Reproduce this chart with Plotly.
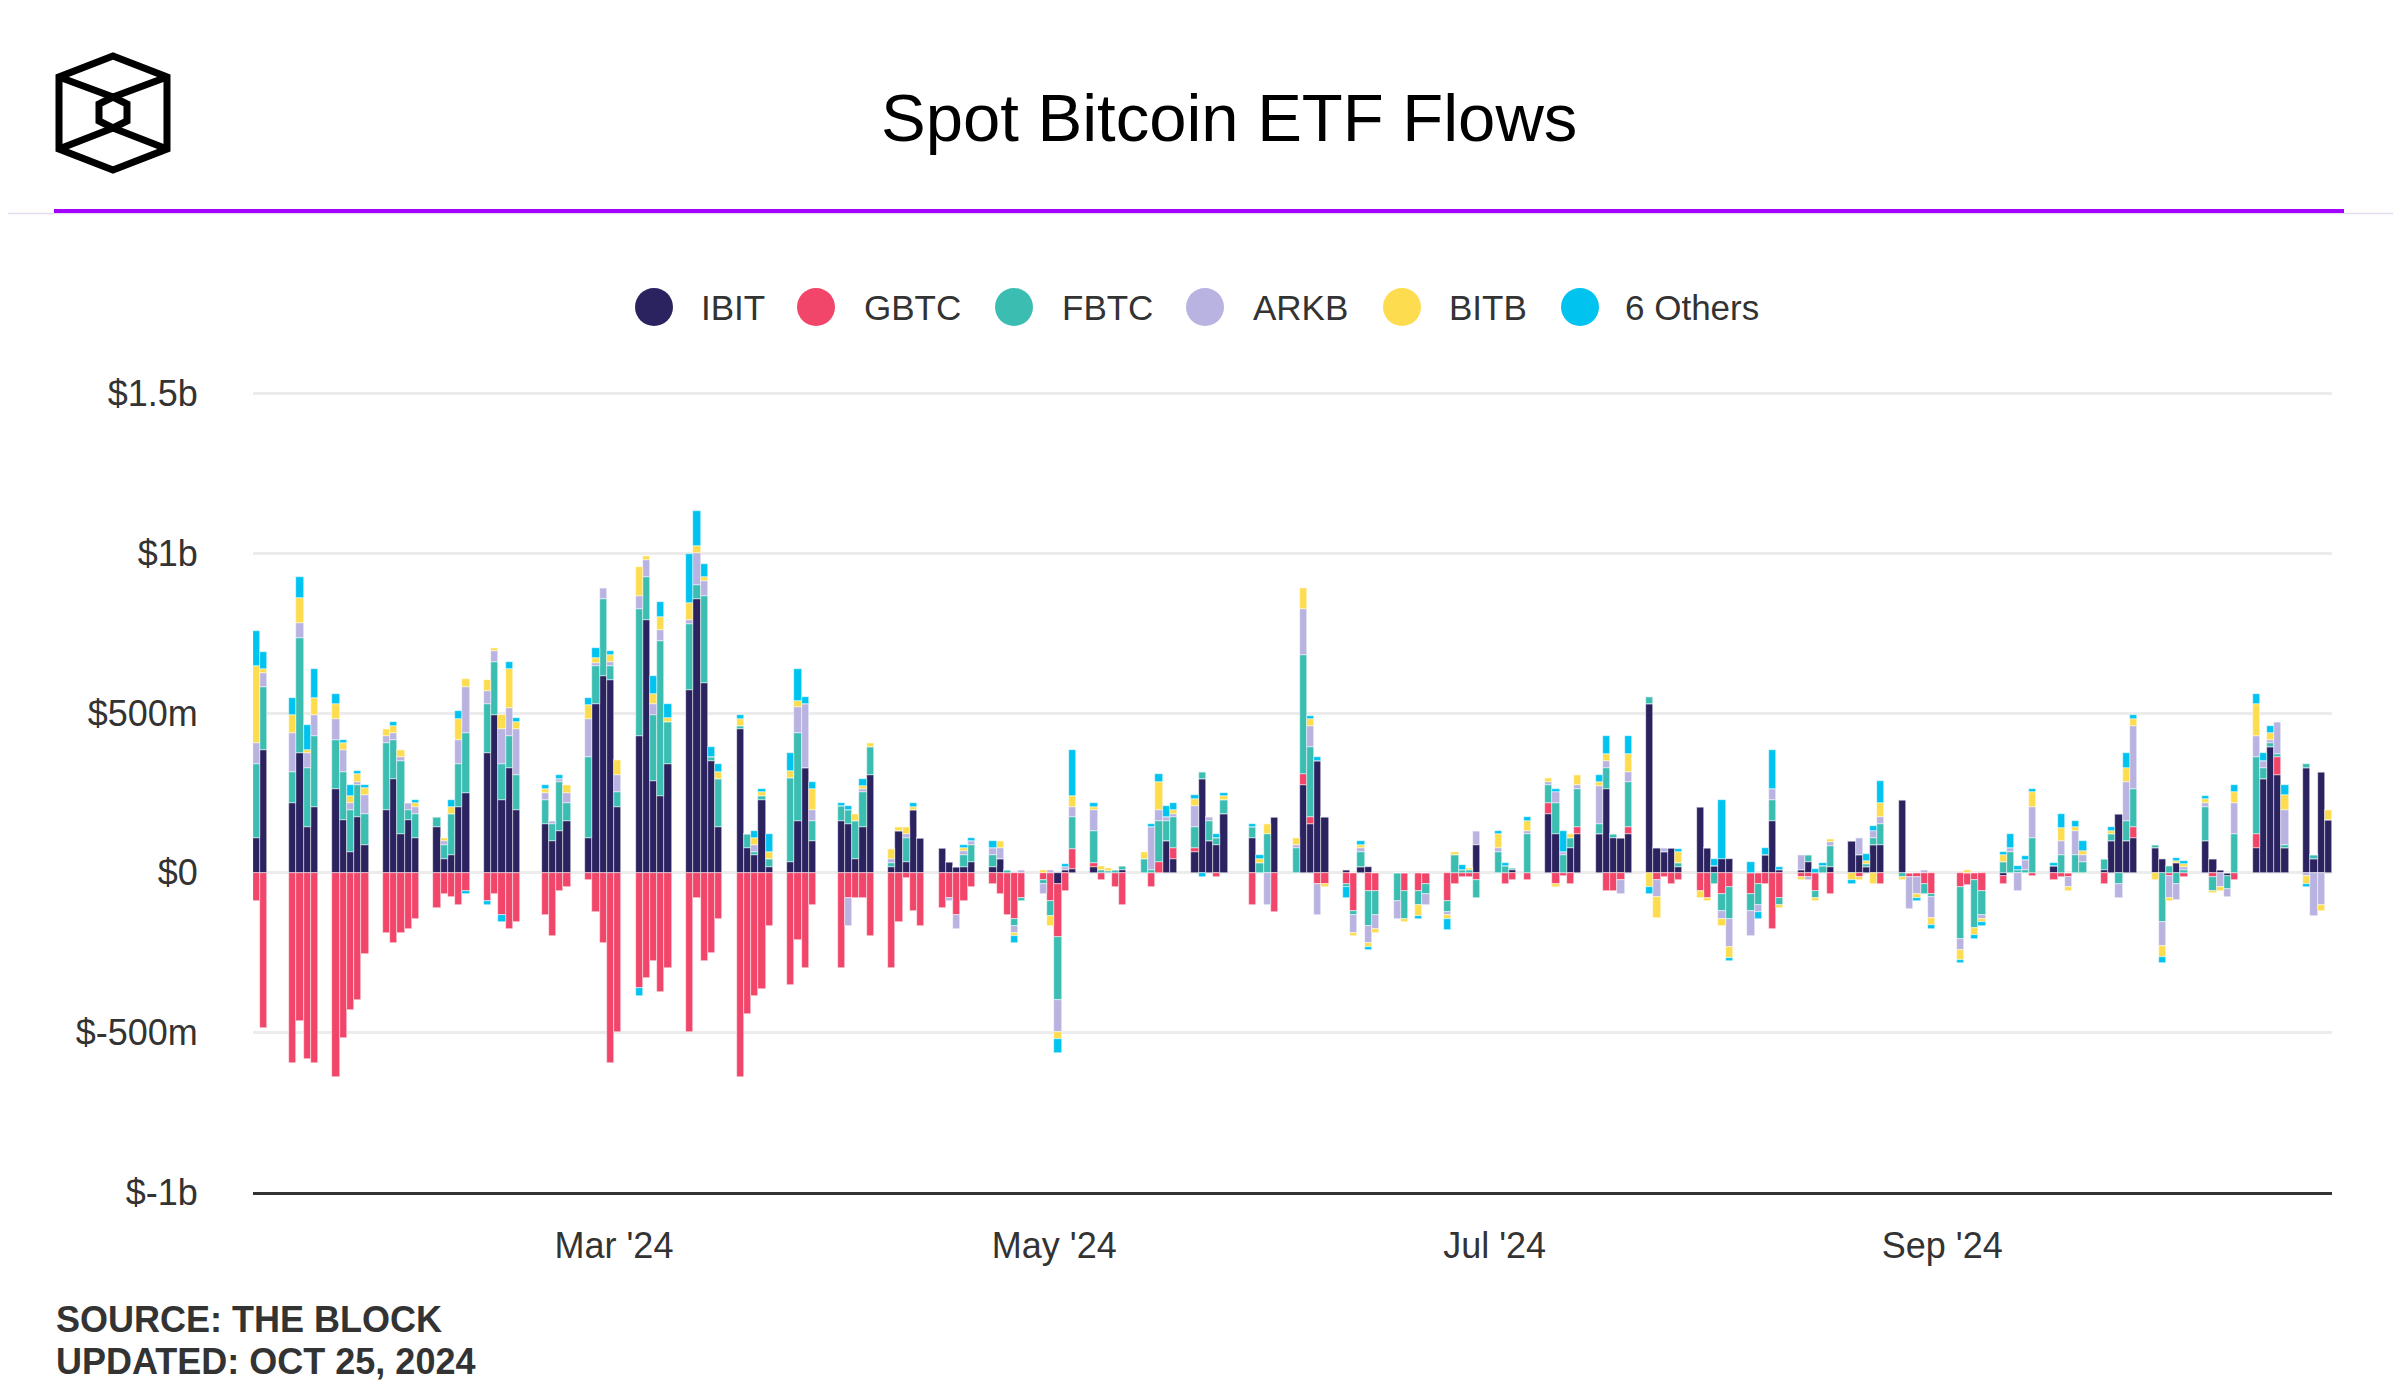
import plotly.graph_objects as go

# ---------------- data (values in $ millions) ----------------
month_days = {
    "01": [11, 12, 16, 17, 18, 19, 22, 23, 24, 25, 26, 29, 30, 31],
    "02": [1, 2, 5, 6, 7, 8, 9, 12, 13, 14, 15, 16, 20, 21, 22, 23, 26, 27, 28, 29],
    "03": [1, 4, 5, 6, 7, 8, 11, 12, 13, 14, 15, 18, 19, 20, 21, 22, 25, 26, 27, 28],
    "04": [1, 2, 3, 4, 5, 8, 9, 10, 11, 12, 15, 16, 17, 18, 19, 22, 23, 24, 25, 26, 29, 30],
    "05": [1, 2, 3, 6, 7, 8, 9, 10, 13, 14, 15, 16, 17, 20, 21, 22, 23, 24, 28, 29, 30, 31],
    "06": [3, 4, 5, 6, 7, 10, 11, 12, 13, 14, 17, 18, 20, 21, 24, 25, 26, 27, 28],
    "07": [1, 2, 3, 5, 8, 9, 10, 11, 12, 15, 16, 17, 18, 19, 22, 23, 24, 25, 26, 29, 30, 31],
    "08": [1, 2, 5, 6, 7, 8, 9, 12, 13, 14, 15, 16, 19, 20, 21, 22, 23, 26, 27, 28, 29, 30],
    "09": [3, 4, 5, 6, 9, 10, 11, 12, 13, 16, 17, 18, 19, 20, 23, 24, 25, 26, 27, 30],
    "10": [1, 2, 3, 4, 7, 8, 9, 10, 11, 14, 15, 16, 17, 18, 21, 22, 23, 24],
}
dates = [f"2024-{m}-{d:02d}" for m, days in month_days.items() for d in days]

ibit = [
    108, 383, 217, 374, 142, 207, 263, 165, 66, 175, 87, 196, 295, 120,
    165, 108, 142, 42, 54, 207, 251, 374, 494, 229, 328, 196, 153, 99, 130, 163, 108, 527, 615, 605,
    207, 428, 792, 286, 241, 340, 572, 858, 593, 349, 142, 450, 76, 54, 229, 18, 33, 163, 328, 99,
    163, 153, 42, 142, 307, 18, 130, 33, 196, 108, 76, 33, 18, 18, 33, 18, 42, 0, 0, 0, 0, 0,
    -34, 10, 12, 18, 0, 0, 0, 10, 0, 0, 0, 99, 42, 64, 295, 99, 87, 184, 108, 0, 0, 175,
    0, 274, 153, 349, 175, 10, 0, 18, 18, 0, 0, 0, 0, 0, 0, 0, 0, 0, 87,
    0, 0, 10, 0, 184, 120, 0, 76, 120, 120, 261, 108, 108, 120, 527, 76, 64, 76, 18, 207, 76, 20,
    42, 42, 0, 0, 54, 163, 10, 10, 33, 0, 0, 18, 99, 54, 18, 87, 87, 229, 0, 0, 0, 0,
    0, 0, 0, 0, -10, 0, 0, 0, 0, 20, 0, 0, 0, 0, 10, 99, 184, 99, 108, 76,
    42, 0, 30, 0, 99, 42, 10, -10, 0, 76, 295, 395, 307, 76, 329, 42, 317, 164,
]
gbtc = [
    -90, -486, -596, -464, -584, -596, -640, -518, -430, -398, -255, -189, -221, -189,
    -177, -145, -111, -67, -77, -100, -57, -90, -67, -133, -177, -154, -133, -199, -57, -45, -22, -123, -221, -596,
    -498, -362, -331, -275, -374, -298, -498, -78, -275, -253, -145, -640, -443, -386, -365, -166, -353, -211, -298, -100,
    -298, -78, -78, -78, -199, -298, -154, -18, -120, -166, -110, -78, -133, -90, -45, -34, -67, -133, -145, -78, -22, -90,
    -167, -57, 63, 14, -22, 0, -45, -100, 0, -45, 33, 0, 34, 12, 0, 0, -12, 0, -100, 0, 0, -124,
    0, 34, 22, -34, -34, -34, -120, 0, -57, -57, 0, -57, -57, -34, -90, -34, -12, -12, -22,
    0, -34, -22, -22, 33, -34, -10, -34, 22, 0, -57, -57, -22, 22, 0, -22, -12, -34, -22, -57, -78, 0,
    -67, -45, -67, -34, -34, -177, -78, -12, -12, -57, 0, -67, 0, -12, 0, 0, -34, 0, -12, -12, -34, -67,
    -45, -37, -24, -57, -24, 0, 0, 0, -10, -22, -12, -12, 0, 0, -34, 0, 0, 0, 34, 0,
    0, -10, 0, -12, 0, -12, 0, 0, -22, 45, 0, 0, 54, 0, 0, 0, 0, 0,
]
fbtc = [
    231, 199, 100, 362, 187, 220, 153, 152, 130, 99, 98, 210, 120, 229,
    31, 76, 33, 45, 130, 133, 187, 153, 165, 111, 100, 111, 76, 54, 153, 54, 253, 120, 241, 43,
    46, 398, 133, 208, 484, 133, 208, 43, 275, 12, 153, 11, 45, 12, 12, 24, 263, 275, 0, 64,
    45, 45, 120, 111, 88, 14, 0, 76, 0, 0, 0, 0, 0, 37, 54, 37, 0, 10, -22, -12, -12, -44,
    -199, 0, 99, 99, 10, 5, 10, 10, 42, 10, 130, 64, 99, 66, 22, 64, 22, 45, 34, 30, 120, 0,
    76, 374, 220, 0, 0, -10, -12, 46, -110, -76, -90, -88, -44, -34, -33, 54, 8, 8, -57,
    64, 20, 5, 120, 57, 97, 54, 33, 120, 33, 66, 12, 0, 141, 22, 0, 0, 0, 14, 0, 0, -34,
    -54, -100, -54, -66, 0, 66, -22, 0, 22, -22, 20, 66, 0, 0, 8, 22, 66, -12, 0, 0, -34, -10,
    -162, 0, -150, -76, 33, 64, 10, 8, 108, 0, 54, 0, 54, 33, 33, 22, -34, 64, 120, 12,
    -155, 20, -34, 10, 108, -45, 0, -40, 120, 241, 33, 11, 12, 12, 12, 12, 0, 0,
]
arkb = [
    66, 43, 122, 45, 45, 66, 66, 66, 23, 10, 57, 22, 22, 12,
    23, 23, 0, 12, 0, 76, 145, 43, 34, 110, 88, 142, 22, 10, 12, 34, 120, 10, 36, 11,
    54, 42, 55, 34, 34, 0, 11, 99, 46, 0, 0, 0, 0, 20, 0, 0, 0, 81, 199, 34,
    0, -88, 0, 10, 0, 12, 0, 12, 0, 0, 0, -12, -44, 12, 12, 22, 34, 0, -22, 10, -34, 10,
    -100, 8, 33, 66, 0, 0, 0, 0, 0, 133, 34, 12, 10, 66, 0, 10, 0, 0, 0, 0, -100, 0,
    10, 145, 65, -97, 0, 0, -56, 12, -54, -44, -54, 0, 0, -33, -10, 0, 0, 0, 44,
    12, 0, 0, 10, 10, 36, 10, 0, 12, 120, 22, 0, -45, 34, 0, -54, 12, 0, 0, 0, 0, 0,
    -24, -88, -78, -22, 0, 34, 0, 44, -12, 0, 0, 12, 0, 54, 0, 22, 22, 0, -102, -55, 10, -66,
    -34, 0, 0, -12, 0, 12, -57, 33, 99, 0, 44, -33, 76, 22, 0, 0, -44, 120, 199, 0,
    -76, -70, -50, 8, 12, 0, -45, -25, 99, 66, 22, 10, 99, 110, -10, -134, -100, 0,
]
bitb = [
    241, 13, 54, 78, 10, 54, 46, 23, 22, 24, 22, 22, 23, 22,
    0, 12, 0, 10, 23, 66, 23, 35, 11, 45, 123, 23, 12, 0, 0, 23, 45, 14, 0, 22,
    45, 90, 11, 33, 42, 12, 55, 22, 11, 0, 22, 22, 0, 22, 12, 24, 22, 20, 0, 66,
    0, 0, 22, 10, 10, 31, 12, 22, 10, 0, 0, 0, 0, 10, 0, 0, 22, 0, -10, 0, 10, -34,
    -20, 0, 33, 10, 10, 10, 0, 0, 24, 0, 87, 0, 12, 22, 0, 0, 0, 12, 0, 12, 33, 0,
    22, 64, 22, 0, -10, 0, -10, 10, -12, -12, 0, -10, -33, 0, -12, 10, 0, 8, 0,
    44, 0, 0, 33, 12, -10, 0, 12, 33, 12, 24, 0, 0, 56, -45, -66, 0, 0, 33, -22, -12, 0,
    -22, -33, 0, 0, 0, 0, -10, -10, 0, -10, 0, 10, -22, -10, 12, -34, 43, -10, 0, -12, 0, -22,
    -33, 10, -22, -10, 22, 0, 0, 0, 45, 0, 43, -12, 12, 12, 0, 10, 0, 45, 22, -22,
    -33, -8, 8, 10, 12, -8, -12, 0, 34, 99, 0, 22, 0, 45, -24, 0, -20, 34,
]
others = [
    112, 53, 55, 66, 78, 90, 33, 10, 33, 10, 11, 0, 12, 0,
    0, 10, 0, 0, 22, 24, -11, -10, 0, -22, 20, 12, 11, 0, 12, 0, 22, 33, 0, 12,
    0, -24, 0, 54, 46, 43, 153, 111, 43, 34, 23, 12, 0, 22, 10, 54, 57, 100, 22, 20,
    10, 10, 0, 22, 0, 0, 0, 0, 12, 0, 0, 0, 0, 10, 10, 22, 0, 0, -22, 0, 0, 0,
    -44, 8, 145, 12, 0, 0, 0, 0, 0, 10, 24, 33, 20, 12, -12, 0, 12, 10, 10, 12, 0, 0,
    0, 0, 10, 12, 0, -34, 0, 12, -10, 0, 0, 0, -12, 0, -33, 0, 15, 0, 0,
    10, 10, 0, 12, 0, 10, 66, 0, 0, 22, 54, 0, 0, 54, -22, 0, 0, 0, 10, 0, 0, 22,
    185, -10, 33, -22, 22, 120, 8, 0, 0, 12, 12, 0, -12, 0, 22, 14, 69, 0, 0, -10, 0, -10,
    -10, 0, -12, -12, 10, 44, 10, 12, 10, 12, 42, 0, 20, 33, 0, 12, 0, 46, 10, 0,
    -20, 0, 8, 10, 10, 0, 0, 0, 22, 33, 24, 23, 0, 33, -10, 0, 0, 0,
]

series_names = ["IBIT", "GBTC", "FBTC", "ARKB", "BITB", "6 Others"]
series_values = [ibit, gbtc, fbtc, arkb, bitb, others]
series_colors = ["#2b2360", "#f2456a", "#3cbdb2", "#b8b3e1", "#fddd4f", "#00c3f0"]

y_tickvals = [-1000, -500, 0, 500, 1000, 1500]
y_ticktext = ["$-1b", "$-500m", "$0", "$500m", "$1b", "$1.5b"]
x_tickvals = ["2024-03-01", "2024-05-01", "2024-07-01", "2024-09-01"]
x_ticktext = ["Mar '24", "May '24", "Jul '24", "Sep '24"]

for v in series_values:
    assert len(v) == len(dates), (len(v), len(dates))

# ---------------- layout geometry ----------------
# page body has an 8px margin, so the figure is drawn 8px smaller and all
# reference-pixel positions are shifted by that offset.
OFF = 8
W, H = 2401 - OFF, 1400 - OFF
PLOT_L, PLOT_R, PLOT_T, PLOT_B = 253, 2332, 389, 1192   # reference pixels
L = PLOT_L - OFF
T = PLOT_T - OFF
R = W - (PLOT_R - OFF)
B = H - (PLOT_B - OFF)
PW = PLOT_R - PLOT_L
PH = PLOT_B - PLOT_T
FONT = "Liberation Sans, Arial, sans-serif"


def xp(px):
    return (px - PLOT_L) / PW


def yp(py):
    return (PLOT_B - py) / PH


DAY = 86400000

fig = go.Figure()
for name, vals, col in zip(series_names, series_values, series_colors):
    fig.add_trace(go.Bar(
        x=dates, y=vals, name=name,
        marker=dict(color=col, line=dict(color="rgba(255,255,255,0.8)", width=0.6)),
        width=DAY, xperiod=DAY, xperiodalignment="middle",
        showlegend=False,
    ))

shapes = []
annotations = []

# header separator lines
shapes.append(dict(type="line", xref="paper", yref="paper",
                   x0=xp(0), x1=xp(2401), y0=yp(213.5), y1=yp(213.5),
                   line=dict(color="#e4dced", width=1.5)))
shapes.append(dict(type="line", xref="paper", yref="paper",
                   x0=xp(54), x1=xp(2344), y0=yp(211), y1=yp(211),
                   line=dict(color="#a300ff", width=4)))


# logo (cube outline)
def path(points, close=True):
    s = "M " + " L ".join(f"{xp(a):.5f},{yp(b):.5f}" for a, b in points)
    return s + (" Z" if close else "")


logo_line = dict(color="#000000", width=7)
outer = [(113, 56), (167, 77), (167, 149), (113, 170), (59, 149), (59, 77)]
inner = [(113, 97), (127, 104), (127, 121), (113, 128), (99, 121), (99, 104)]
shapes.append(dict(type="path", xref="paper", yref="paper", path=path(outer), line=logo_line))
shapes.append(dict(type="path", xref="paper", yref="paper", path=path(inner), line=logo_line))
shapes.append(dict(type="path", xref="paper", yref="paper",
                   path=path([(59, 77), (113, 97), (167, 77)], close=False), line=logo_line))
shapes.append(dict(type="path", xref="paper", yref="paper",
                   path=path([(59, 149), (113, 128), (167, 149)], close=False), line=logo_line))

# title
annotations.append(dict(text="Spot Bitcoin ETF Flows", x=xp(1229), y=yp(117),
                        xref="paper", yref="paper", xanchor="center", yanchor="middle",
                        showarrow=False, font=dict(family=FONT, size=67, color="#000000")))

# custom legend with round markers
legend_circle_x = [654, 816, 1014, 1205, 1402, 1580]
legend_text_x = [699, 862, 1060, 1251, 1447, 1623]
legend_y = 307
for name, col, cx, tx in zip(series_names, series_colors, legend_circle_x, legend_text_x):
    shapes.append(dict(type="circle", xref="paper", yref="paper",
                       xsizemode="pixel", ysizemode="pixel",
                       xanchor=xp(cx), yanchor=yp(legend_y),
                       x0=-19, x1=19, y0=-19, y1=19,
                       fillcolor=col, line=dict(width=0)))
    annotations.append(dict(text=name, x=xp(tx), y=yp(legend_y),
                            xref="paper", yref="paper", xanchor="left", yanchor="middle",
                            showarrow=False, font=dict(family=FONT, size=35, color="#333333")))

# footer
annotations.append(dict(text="<b>SOURCE: THE BLOCK</b>", x=xp(54), y=yp(1319),
                        xref="paper", yref="paper", xanchor="left", yanchor="middle",
                        showarrow=False, font=dict(family=FONT, size=36, color="#333333")))
annotations.append(dict(text="<b>UPDATED: OCT 25, 2024</b>", x=xp(54), y=yp(1361),
                        xref="paper", yref="paper", xanchor="left", yanchor="middle",
                        showarrow=False, font=dict(family=FONT, size=36, color="#333333")))

fig.update_layout(
    width=W, height=H,
    margin=dict(l=L, r=R, t=T, b=B, autoexpand=False),
    paper_bgcolor="white", plot_bgcolor="white",
    barmode="relative", bargap=0,
    showlegend=False,
    font=dict(family=FONT, size=35, color="#333333"),
    shapes=shapes, annotations=annotations,
    xaxis=dict(
        type="date", range=["2024-01-11", "2024-10-25"],
        tickvals=x_tickvals, ticktext=x_ticktext,
        showgrid=False, zeroline=False,
        showline=True, linecolor="#333333", linewidth=3,
        ticks="outside", ticklen=20, tickcolor="rgba(0,0,0,0)",
        tickfont=dict(family=FONT, size=36, color="#333333"),
    ),
    yaxis=dict(
        range=[-1000, 1515],
        tickvals=y_tickvals, ticktext=y_ticktext,
        showgrid=True, gridcolor="#ececec", gridwidth=3,
        zeroline=False, showline=False,
        ticks="outside", ticklen=47, tickcolor="rgba(0,0,0,0)",
        tickfont=dict(family=FONT, size=36, color="#333333"),
    ),
)

fig.write_html("out.html")
